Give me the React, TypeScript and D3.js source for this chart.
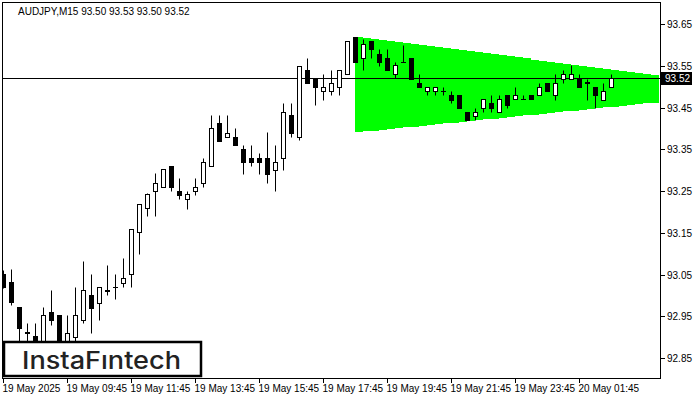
import React from "react";
import * as d3 from "d3";

const symbolTitle = "AUDJPY,M15  93.50 93.53 93.50 93.52";
const opens = [93.052,93.031,92.971,92.912,92.902,92.882,92.961,92.952,92.882,92.901,92.942,93.002,92.982,93.012,93.021,93.030,93.052,93.151,93.210,93.250,93.259,93.311,93.251,93.231,93.250,93.270,93.309,93.412,93.380,93.380,93.351,93.330,93.330,93.330,93.300,93.330,93.431,93.380,93.541,93.519,93.489,93.489,93.499,93.531,93.619,93.569,93.610,93.579,93.569,93.531,93.560,93.569,93.509,93.489,93.489,93.490,93.480,93.481,93.440,93.429,93.449,93.460,93.440,93.481,93.471,93.471,93.481,93.480,93.509,93.480,93.519,93.519,93.519,93.510,93.500,93.469,93.500];
const highs = [93.060,93.062,92.973,92.933,92.933,92.972,93.012,92.952,92.952,93.021,93.082,93.052,93.021,93.072,93.052,93.090,93.160,93.220,93.246,93.292,93.302,93.311,93.282,93.251,93.282,93.330,93.431,93.431,93.431,93.401,93.361,93.361,93.341,93.391,93.361,93.460,93.460,93.549,93.569,93.519,93.531,93.541,93.539,93.610,93.619,93.613,93.610,93.591,93.591,93.559,93.600,93.569,93.531,93.500,93.500,93.500,93.489,93.481,93.440,93.449,93.471,93.481,93.481,93.481,93.500,93.481,93.481,93.509,93.509,93.531,93.541,93.551,93.531,93.519,93.500,93.509,93.530];
const lows = [93.017,92.978,92.882,92.882,92.870,92.870,92.930,92.858,92.870,92.882,92.935,92.909,92.942,93.002,92.992,93.021,93.021,93.100,93.190,93.190,93.259,93.250,93.230,93.208,93.240,93.259,93.309,93.369,93.380,93.360,93.290,93.309,93.290,93.268,93.250,93.300,93.380,93.373,93.509,93.457,93.469,93.479,93.479,93.531,93.559,93.539,93.569,93.549,93.539,93.521,93.559,93.519,93.499,93.479,93.479,93.479,93.460,93.448,93.420,93.420,93.439,93.439,93.440,93.448,93.471,93.470,93.471,93.480,93.489,93.469,93.509,93.519,93.500,93.469,93.448,93.469,93.500];
const closes = [93.021,92.983,92.923,92.910,92.890,92.952,92.941,92.870,92.910,92.952,93.012,92.970,93.021,93.011,93.020,93.041,93.159,93.219,93.242,93.270,93.302,93.259,93.240,93.242,93.260,93.320,93.401,93.369,93.389,93.360,93.319,93.319,93.319,93.290,93.320,93.440,93.389,93.549,93.509,93.499,93.500,93.509,93.539,93.610,93.559,93.601,93.590,93.559,93.539,93.551,93.559,93.519,93.499,93.500,93.500,93.489,93.469,93.448,93.420,93.440,93.471,93.448,93.471,93.457,93.481,93.470,93.471,93.500,93.489,93.509,93.531,93.531,93.500,93.509,93.480,93.489,93.520];

const priceTicks = [93.65, 93.55, 93.45, 93.35, 93.25, 93.15, 93.05, 92.95, 92.85];
const timeTickIndex = [0, 8, 16, 24, 32, 40, 48, 56, 64, 72];
const timeTickLabels = ["19 May 2025", "19 May 09:45", "19 May 11:45", "19 May 13:45", "19 May 15:45", "19 May 17:45", "19 May 19:45", "19 May 21:45", "19 May 23:45", "20 May 01:45"];
const currentPrice = 93.52;
const triangleIndex = [44, 82];
const triangleTop = [93.62, 93.527];
const triangleBottom = [93.392, 93.465];

const W = 700, H = 400;
const plotL = 2, plotR = 660, plotT = 2, plotB = 378;

export default function App() {
  const x = d3.scaleLinear().domain([0, 76]).range([3.5, 3.5 + 8 * 76]);
  const y = d3.scaleLinear().domain([92.85, 93.65]).range([358.5, 24.5]);
  const snap = (v: number) => Math.round(v - 0.5) + 0.5;

  const topLine = d3.scaleLinear().domain(triangleIndex).range(triangleTop);
  const botLine = d3.scaleLinear().domain(triangleIndex).range(triangleBottom);
  const steps = d3.range(triangleIndex[0], triangleIndex[1]);

  const font = "'Liberation Sans', Arial, sans-serif";
  const cy = snap(y(currentPrice));

  return (
    <svg width={W} height={H} style={{ position: "fixed", left: 0, top: 0, background: "#fff" }}>
      <defs>
        <clipPath id="plot">
          <rect x={plotL + 0.5} y={plotT + 0.5} width={plotR - plotL} height={plotB - plotT} />
        </clipPath>
      </defs>
      <rect x={0} y={0} width={W} height={H} fill="#fff" />
      <g clipPath="url(#plot)">
        {steps.map((i) => {
          const x0 = x(i) - 0.5;
          const y0 = Math.round(y(topLine(i)));
          const y1 = Math.round(y(botLine(i)));
          return <rect key={"g" + i} x={x0} y={y0} width={8} height={y1 - y0} fill="#00ff00" />;
        })}
        <line x1={plotL} x2={plotR} y1={cy} y2={cy} stroke="#000" strokeWidth={1} />
        {opens.map((o, i) => {
          const cx = x(i);
          const c = closes[i];
          const yo = snap(y(o));
          const yc = snap(y(c));
          const yh = snap(y(highs[i]));
          const yl = snap(y(lows[i]));
          const top = Math.min(yo, yc);
          const bot = Math.max(yo, yc);
          const bull = c >= o;
          return (
            <g key={"c" + i}>
              <line x1={cx} x2={cx} y1={yh} y2={yl} stroke="#000" strokeWidth={1} />
              {bot - top < 1 ? (
                <line x1={cx - 2.5} x2={cx + 2.5} y1={top} y2={top} stroke="#000" strokeWidth={1} />
              ) : (
                <rect x={cx - 2} y={top} width={4} height={bot - top} fill={bull ? "#fff" : "#000"} stroke="#000" strokeWidth={1} />
              )}
            </g>
          );
        })}
      </g>
      <rect x={plotL + 0.5} y={plotT + 0.5} width={plotR - plotL} height={plotB - plotT} fill="none" stroke="#000" strokeWidth={1} />
      {priceTicks.map((p) => (
        <g key={"p" + p}>
          <line x1={plotR + 1} x2={plotR + 5} y1={snap(y(p))} y2={snap(y(p))} stroke="#000" />
          <text x={667} y={y(p) + 3.5} fontFamily={font} fontSize={10} fill="#000">{p.toFixed(2)}</text>
        </g>
      ))}
      <rect x={661} y={cy - 6.5} width={31} height={13} fill="#000" />
      <text x={665} y={cy + 3.5} fontFamily={font} fontSize={10} fill="#fff">{currentPrice.toFixed(2)}</text>
      {timeTickIndex.map((ti, j) => (
        <g key={"t" + ti}>
          <line x1={x(ti)} x2={x(ti)} y1={plotB + 1} y2={plotB + 5} stroke="#000" />
          <text x={x(ti) - 1} y={392} fontFamily={font} fontSize={10} fill="#000">{timeTickLabels[j]}</text>
        </g>
      ))}
      <text x={18} y={14.5} fontFamily={font} fontSize={10} fill="#000">{symbolTitle}</text>
      <rect x={4} y={342} width={197} height={34} fill="#fff" stroke="#000" strokeWidth={2.5} />
      <text x={22} y={368.5} fontFamily="Inter, 'Noto Sans', sans-serif" fontWeight={500} fontSize={24.5} fill="#222" textLength={159} lengthAdjust="spacingAndGlyphs">InstaFıntech</text>
    </svg>
  );
}
